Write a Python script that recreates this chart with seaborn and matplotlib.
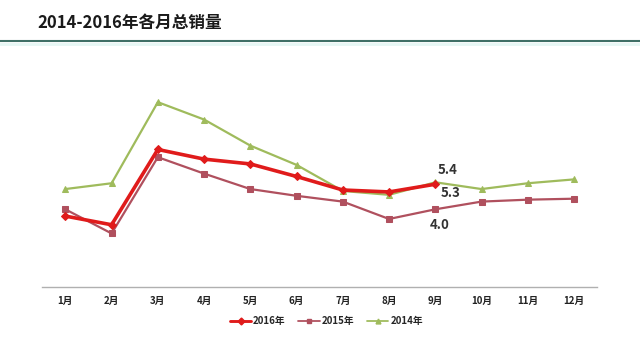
import matplotlib
matplotlib.use("Agg")
import matplotlib.pyplot as plt
import seaborn as sns
import pandas as pd
from matplotlib.lines import Line2D

sns.set_style("white")
plt.rcParams['font.family'] = ['Noto Sans CJK SC', 'DejaVu Sans']

months = ["1月", "2月", "3月", "4月", "5月", "6月", "7月", "8月", "9月", "10月", "11月", "12月"]
sales_2016 = [3.65, 3.2, 7.1, 6.6, 6.35, 5.7, 5.0, 4.9, 5.3]
sales_2015 = [4.0, 2.75, 6.7, 5.85, 5.05, 4.7, 4.4, 3.5, 4.0, 4.4, 4.5, 4.55]
sales_2014 = [5.05, 5.35, 9.55, 8.65, 7.3, 6.3, 4.95, 4.75, 5.4, 5.05, 5.35, 5.55]
series_names = ["2016年", "2015年", "2014年"]

colors = {"2016年": "#e01b1b", "2015年": "#b0505e", "2014年": "#9fbb5c"}
markers = {"2016年": "D", "2015年": "s", "2014年": "^"}
widths = {"2016年": 2.6, "2015年": 1.6, "2014年": 1.6}
msizes = {"2016年": 4.5, "2015年": 5, "2014年": 5}

rows = []
for name, vals in zip(series_names, [sales_2016, sales_2015, sales_2014]):
    for i, v in enumerate(vals):
        rows.append({"series": name, "month": i, "value": v})
df = pd.DataFrame(rows)

fig = plt.figure(figsize=(6.4, 3.6), dpi=100)
ax = fig.add_axes([0.066, 0.204, 0.867, 0.59])

for name in ["2014年", "2015年", "2016年"]:
    sub = df[df["series"] == name]
    sns.lineplot(data=sub, x="month", y="value", ax=ax, color=colors[name],
                 marker=markers[name], markersize=msizes[name], linewidth=widths[name],
                 markeredgecolor=colors[name], legend=False)

ax.set_xlim(-0.5, 11.5)
ax.set_ylim(0, 11)
ax.set_xticks(range(len(months)))
ax.set_xticklabels(months, fontsize=7, fontweight='bold', color='#222222')
ax.set_yticks([])
ax.set_xlabel("")
ax.set_ylabel("")
for s in ["top", "right", "left"]:
    ax.spines[s].set_visible(False)
ax.spines["bottom"].set_color("#b0b0b0")
ax.spines["bottom"].set_linewidth(1.0)
ax.tick_params(axis='x', length=0, pad=7)

# value labels at September
i9 = 8
lbl = dict(fontsize=9.5, fontweight='bold', color='#333333', textcoords="offset points")
ax.annotate(f"{sales_2014[i9]:.1f}", (i9, sales_2014[i9]), xytext=(2, 4),
            ha="left", va="bottom", **lbl)
ax.annotate(f"{sales_2016[i9]:.1f}", (i9, sales_2016[i9]), xytext=(4, -1),
            ha="left", va="top", **lbl)
ax.annotate(f"{sales_2015[i9]:.1f}", (i9, sales_2015[i9]), xytext=(-4, -6),
            ha="left", va="top", **lbl)

handles = [Line2D([0], [0], color=colors[n], marker=markers[n], markersize=3.5,
                  linewidth=widths[n] * 0.8) for n in series_names]
fig.legend(handles, series_names, loc="center", bbox_to_anchor=(0.51, 0.108), ncol=3,
           frameon=False, prop={'size': 7, 'weight': 'bold'}, handlelength=2.2,
           handletextpad=0.2, columnspacing=1.3)

fig.text(0.059, 0.935, "2014-2016年各月总销量", fontsize=12, fontweight='bold',
         color='#1a1a1a', ha='left', va='center')
fig.add_artist(Line2D([0, 1], [0.886, 0.886], transform=fig.transFigure,
                      color="#3f6f66", linewidth=1.5))
fig.add_artist(Line2D([0, 1], [0.878, 0.878], transform=fig.transFigure,
                      color="#e6f7f4", linewidth=2))

fig.savefig("out.png", dpi=100, facecolor="white")
